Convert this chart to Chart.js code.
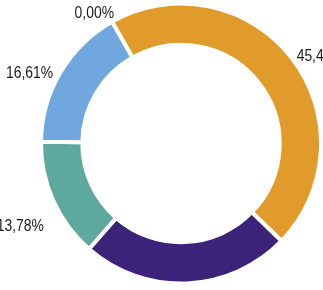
<!DOCTYPE html>
<html>
<head>
<meta charset="utf-8">
<script src="https://cdn.jsdelivr.net/npm/chart.js@4/dist/chart.umd.min.js"></script>
<style>
  html, body { margin: 0; padding: 0; background: #ffffff; }
  #wrap { width: 323px; height: 290px; }
</style>
</head>
<body>
<div id="wrap"><canvas id="c" width="323" height="290"></canvas></div>
<script>
// Data
const categories = ["A", "B", "C", "D", "E"];
const values = [45.45, 24.16, 13.78, 16.61, 0.00];
const labelTexts = ["45,45%", "24,16%", "13,78%", "16,61%", "0,00%"];
const colors = ["#E09B2A", "#3A2379", "#5FA89E", "#6FA7DE", "#6FA7DE"];

const outsideLabels = {
  id: "outsideLabels",
  afterDatasetsDraw(chart) {
    const ctx = chart.ctx;
    const meta = chart.getDatasetMeta(0);
    ctx.save();
    ctx.font = '16px "Liberation Sans", Arial, sans-serif';
    ctx.fillStyle = "#1a1a1a";
    ctx.textAlign = "center";
    ctx.textBaseline = "middle";
    meta.data.forEach((arc, i) => {
      const p = arc.getProps(["x", "y", "startAngle", "endAngle", "outerRadius"], true);
      const mid = (p.startAngle + p.endAngle) / 2;
      const d = p.outerRadius + 26;
      const x = p.x + Math.cos(mid) * d * 1.06;
      const y = p.y + Math.sin(mid) * d + 15;
      ctx.save();
      ctx.translate(x, y);
      ctx.scale(0.87, 1);
      ctx.fillText(labelTexts[i], 0, 0);
      ctx.restore();
    });
    ctx.restore();
  }
};

new Chart(document.getElementById("c"), {
  type: "doughnut",
  data: {
    labels: categories,
    datasets: [{
      data: values,
      backgroundColor: colors,
      borderColor: "#ffffff",
      borderWidth: 4,
      hoverOffset: 0
    }]
  },
  options: {
    responsive: false,
    animation: false,
    rotation: -29.5,
    cutout: "70.5%",
    layout: { padding: { left: 39, right: 0, top: 0, bottom: 3 } },
    plugins: {
      legend: { display: false },
      tooltip: { enabled: false }
    }
  },
  plugins: [outsideLabels]
});
</script>
</body>
</html>
